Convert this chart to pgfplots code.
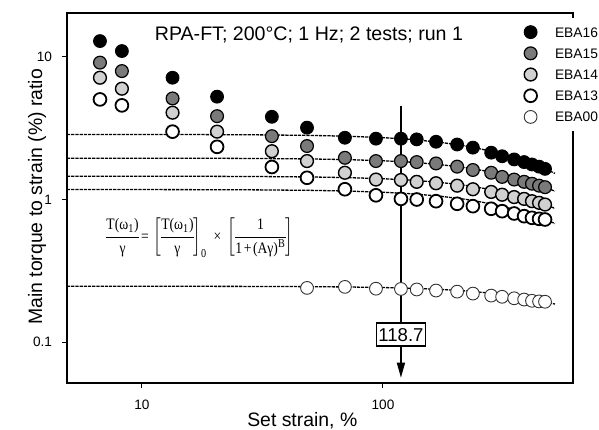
\documentclass[border=0pt]{standalone}
\usepackage{amsmath}
\usepackage{graphicx}
\usepackage{fontspec}
\setmainfont{Liberation Sans}
\newfontfamily\serif{Liberation Serif}
\usepackage{pgfplots}
\usepackage{pgfplotstable}
\pgfplotsset{compat=1.18}
\usetikzlibrary{arrows.meta}

\pgfplotstableread{
x y16 y15 y14 y13
6.70 12.9 9.11 7.14 5.03
8.26 10.98 7.95 5.98 4.57
13.4 7.14 5.11 4.06 2.99
20.5 5.26 3.84 2.99 2.34
34.6 3.80 2.78 2.18 1.69
48.4 3.19 2.37 1.86 1.42
69.5 2.71 1.96 1.54 1.18
93.5 2.67 1.86 1.38 1.07
118.7 2.67 1.86 1.37 1.01
138 2.64 1.83 1.33 1.00
166 2.54 1.79 1.30 0.973
203 2.43 1.70 1.25 0.933
236 2.31 1.61 1.18 0.898
281 2.13 1.54 1.13 0.861
312 2.01 1.44 1.08 0.828
350 1.91 1.38 1.04 0.798
385 1.83 1.33 1.01 0.764
415 1.76 1.29 0.973 0.744
444 1.70 1.25 0.948 0.732
470 1.64 1.22 0.922 0.724
}\datamain

\pgfplotstableread{
x y00
48.4 0.240
69.5 0.244
93.5 0.237
118.7 0.236
138 0.234
166 0.230
203 0.226
236 0.219
281 0.212
312 0.208
350 0.203
385 0.199
415 0.195
444 0.193
470 0.192
}\datazero

\pgfplotstableread{
x f16 f15 f14 f13 f00
4.89 2.859 1.9495 1.4566 1.1747 0.2464
10 2.857 1.948 1.4558 1.1739 0.2463
20 2.850 1.945 1.4531 1.1716 0.2461
30 2.840 1.939 1.4492 1.1682 0.2458
50 2.814 1.924 1.4386 1.1590 0.2449
70 2.779 1.905 1.4245 1.1469 0.2437
100 2.715 1.869 1.3987 1.1246 0.2415
130 2.639 1.827 1.3677 1.0980 0.2388
170 2.526 1.762 1.3210 1.0580 0.2346
220 2.374 1.673 1.2564 1.0030 0.2286
280 2.186 1.562 1.1746 0.9339 0.2205
350 1.972 1.430 1.0783 0.8531 0.2103
420 1.771 1.304 0.9850 0.7758 0.1997
470 1.640 1.219 0.9222 0.7240 0.1920
517 1.525 1.143 0.8662 0.6782 0.1849
}\datafit

\newcommand{\sr}[1]{\text{\serif #1}}

\begin{document}
\begin{tikzpicture}
\path[use as bounding box] (-33.5pt,-23pt) rectangle (266pt,191.5pt);
\begin{axis}[
  at={(0,0)}, anchor=south west,
  xmode=log, ymode=log,
  scale only axis, width=253pt, height=185pt,
  xmin=4.89, xmax=614, ymin=0.0517, ymax=20.3,
  xtick={10,100}, xticklabels={10,100},
  ytick={0.1,1,10}, yticklabels={0.1,1,10},
  xminorticks=false, yminorticks=false,
  tick align=outside, tick pos=left, major tick length=2.5pt,
  axis line style={line width=1pt},
  every tick/.style={black, line width=0.5pt},
  tick label style={font=\fontsize{6.8}{8}\selectfont},
  xticklabel style={yshift=-2.5pt},
  yticklabel style={xshift=-1.5pt},
  xlabel={Set strain, \%},
  ylabel={Main torque to strain (\%) ratio},
  label style={font=\fontsize{9.7}{11}\selectfont},
  xlabel style={at={(axis description cs:0.465,-0.1162)}, anchor=base},
  ylabel style={at={(axis description cs:-0.0494,0.503)}, anchor=base},
  clip=false,
  legend style={at={(axis cs:359.7,18.93)}, anchor=north west, draw=none, fill=white,
    inner xsep=3pt, inner ysep=4pt, font=\fontsize{6.9}{8}\selectfont,
    row sep=4.2pt, column sep=0pt,
    nodes={inner sep=0pt, text height=5pt, text depth=0pt}},
  legend cell align=left,
  myleg/.style={legend image code/.code={\draw[##1] plot coordinates {(0pt,0pt)}; \path (-3.4pt,0pt) (12pt,0pt);}},
  fitline/.style={forget plot, black, line width=0.65pt, dash pattern=on 1.6pt off 0.5pt},
]
% EBA00 fit line below markers
\addplot[fitline] table[x=x, y=f00] {\datafit};

\addplot[only marks, mark=*, mark size=3.2pt, mark options={fill=black, draw=black, line width=0.5pt}, myleg] table[x=x, y=y16] {\datamain};
\addlegendentry{EBA16}
\addplot[only marks, mark=*, mark size=3.2pt, mark options={fill=black!52, draw=black, line width=0.6pt}, myleg] table[x=x, y=y15] {\datamain};
\addlegendentry{EBA15}
\addplot[only marks, mark=*, mark size=3.2pt, mark options={fill=black!18, draw=black, line width=0.7pt}, myleg] table[x=x, y=y14] {\datamain};
\addlegendentry{EBA14}
\addplot[only marks, mark=*, mark size=3.2pt, mark options={fill=white, draw=black, line width=0.9pt}, myleg] table[x=x, y=y13] {\datamain};
\addlegendentry{EBA13}
\addplot[only marks, mark=*, mark size=3.2pt, mark options={fill=white, draw=black!80, line width=0.45pt}, myleg] table[x=x, y=y00] {\datazero};
\addlegendentry{EBA00}

\addplot[fitline] table[x=x, y=f16] {\datafit};
\addplot[fitline] table[x=x, y=f15] {\datafit};
\addplot[fitline] table[x=x, y=f14] {\datafit};
\addplot[fitline] table[x=x, y=f13] {\datafit};

\node[anchor=base, font=\fontsize{9.8}{11}\selectfont] at (axis cs:49.3,13.05) {RPA-FT; 200°C; 1 Hz; 2 tests; run 1};

\node[font=\fontsize{8}{9.5}\selectfont, inner sep=0pt] at (axis cs:17.4,0.54) {\scalebox{0.85}[1]{\nulldelimiterspace=0pt$\dfrac{\sr{T(ω\textsubscript{1})}}{\sr{γ}}\mkern3mu\sr{=}\mkern3mu\left[\dfrac{\sr{T(ω\textsubscript{1})}}{\sr{γ}}\right]_{\sr{0}}\mkern5mu\sr{×}\mkern5mu\left[\dfrac{\sr{1}}{\sr{1\kern1pt+\kern1pt(Aγ)}^{\sr{B}}}\right]$}};

\draw[line width=0.7pt, -{Triangle[length=7.5pt,width=4pt]}] (axis cs:118.7,4.5) -- (axis cs:118.7,0.0563);
\node[draw, fill=white, line width=0.7pt, inner xsep=1pt, inner ysep=2.4pt, text height=6.7pt, text depth=0pt, font=\fontsize{9.3}{11}\selectfont] at (axis cs:118.7,0.113) {118.7};
\end{axis}
\end{tikzpicture}
\end{document}
